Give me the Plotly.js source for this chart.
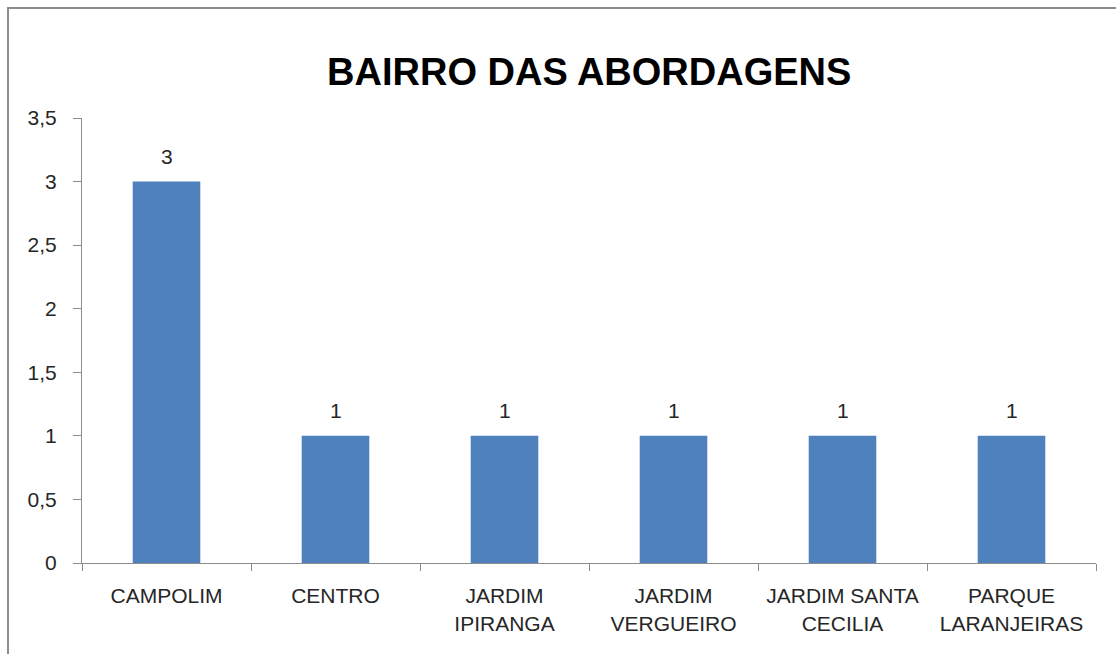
<!DOCTYPE html>
<html>
<head>
<meta charset="utf-8">
<script src="https://cdn.plot.ly/plotly-3.0.1.min.js"></script>
<style>
html,body{margin:0;padding:0;background:#fff;}
#wrap{position:relative;width:1116px;height:654px;overflow:hidden;}
#frame{position:absolute;left:7px;top:7px;width:1120px;height:660px;border:2px solid #8c8c8c;box-sizing:border-box;pointer-events:none;}
#chart{position:absolute;left:0;top:0;width:1116px;height:654px;}
</style>
</head>
<body>
<div id="wrap">
<div id="chart"></div>
<div id="frame"></div>
</div>
<script>
var categories = ["CAMPOLIM", "CENTRO", "JARDIM<br>IPIRANGA", "JARDIM<br>VERGUEIRO", "JARDIM SANTA<br>CECILIA", "PARQUE<br>LARANJEIRAS"];
var values = [3, 1, 1, 1, 1, 1];
var chartTitle = "BAIRRO DAS ABORDAGENS";

var font = "Liberation Sans, Arial, sans-serif";
var txtColor = "#262626";
Plotly.newPlot("chart", [{
  type: "bar",
  x: categories,
  y: values,
  marker: {color: "#4f81bd"},
  width: 0.4,
  hoverinfo: "skip"
}], {
  width: 1116, height: 654,
  margin: {l: 82, r: 20, t: 118, b: 91},
  paper_bgcolor: "rgba(0,0,0,0)",
  plot_bgcolor: "#fff",
  separators: ",.",
  showlegend: false,
  title: {text: "<b>" + chartTitle + "</b>", font: {family: font, size: 38, color: "#000"}, x: 0.528, xanchor: "center", y: 0.89, yanchor: "middle"},
  annotations: categories.map(function (c, i) {
    return {x: c, y: values[i], xref: "x", yref: "y", text: String(values[i]), showarrow: false,
      yanchor: "middle", yshift: 25, font: {family: font, size: 21, color: txtColor}};
  }),
  xaxis: {
    type: "category",
    showline: true, linecolor: "#8c8c8c", linewidth: 1,
    ticks: "outside", ticklen: 7, tickcolor: "#8c8c8c", tickson: "boundaries",
    ticklabelstandoff: 14,
    tickfont: {family: font, size: 21, color: txtColor},
    showgrid: false, zeroline: false
  },
  yaxis: {
    range: [0, 3.5], dtick: 0.5, tick0: 0,
    showline: true, linecolor: "#8c8c8c", linewidth: 1,
    ticks: "outside", ticklen: 8, tickcolor: "#8c8c8c",
    ticklabelstandoff: 12,
    tickfont: {family: font, size: 21, color: txtColor},
    showgrid: false, zeroline: false
  }
}, {staticPlot: true});
</script>
</body>
</html>
